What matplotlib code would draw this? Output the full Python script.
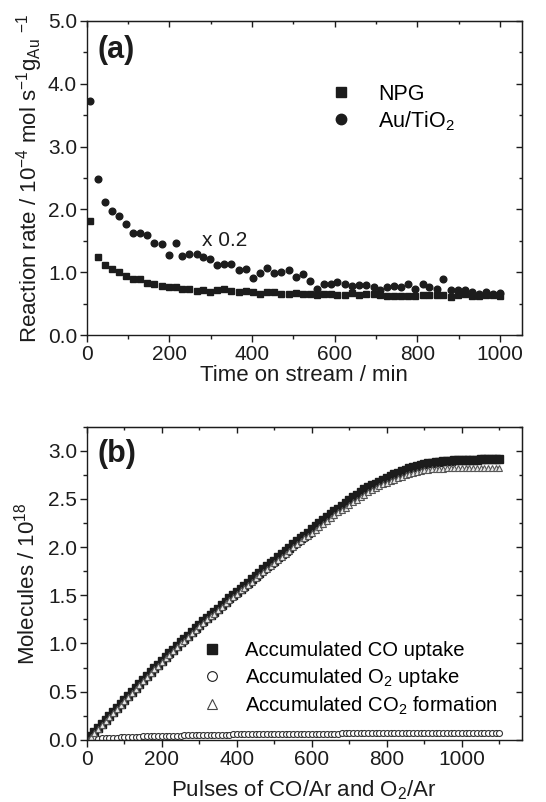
import numpy as np
import matplotlib.pyplot as plt
from matplotlib.ticker import MultipleLocator
from matplotlib.lines import Line2D

plt.rcParams['font.family'] = ['Liberation Sans', 'DejaVu Sans']
plt.rcParams['mathtext.fontset'] = 'custom'
plt.rcParams['mathtext.rm'] = 'Liberation Sans'
plt.rcParams['mathtext.it'] = 'Liberation Sans:italic'
plt.rcParams['mathtext.bf'] = 'Liberation Sans:bold'

# ---- panel (a): reaction rate vs time on stream ----
time_min = [8, 27, 43, 61, 77, 95, 111, 129, 145, 163, 181, 198, 215, 231, 248,
            266, 282, 298, 316, 333, 350, 368, 385, 402, 419, 435, 453, 471, 489,
            505, 523, 539, 556, 573, 590, 606, 624, 642, 658, 676, 694, 710, 727,
            744, 761, 777, 795, 813, 829, 847, 863, 881, 897, 915, 931, 948, 966,
            982, 1000]
rate_npg = [1.82, 1.24, 1.11, 1.06, 1.00, 0.94, 0.89, 0.89, 0.83, 0.82, 0.79, 0.77,
            0.76, 0.74, 0.74, 0.71, 0.72, 0.68, 0.72, 0.73, 0.71, 0.69, 0.71, 0.68,
            0.66, 0.68, 0.68, 0.66, 0.66, 0.67, 0.66, 0.66, 0.64, 0.66, 0.66, 0.64,
            0.64, 0.67, 0.64, 0.66, 0.66, 0.64, 0.62, 0.63, 0.63, 0.63, 0.62, 0.64,
            0.64, 0.64, 0.64, 0.61, 0.64, 0.65, 0.63, 0.62, 0.64, 0.64, 0.63]
rate_autio2 = [3.73, 2.49, 2.12, 1.97, 1.89, 1.77, 1.62, 1.62, 1.59, 1.46, 1.45, 1.28,
               1.46, 1.26, 1.29, 1.29, 1.24, 1.21, 1.12, 1.13, 1.13, 1.03, 1.06, 0.91,
               0.99, 1.07, 0.99, 1.00, 1.04, 0.92, 0.98, 0.87, 0.74, 0.81, 0.82, 0.85,
               0.81, 0.78, 0.80, 0.80, 0.77, 0.72, 0.77, 0.79, 0.76, 0.82, 0.74, 0.81,
               0.77, 0.73, 0.90, 0.72, 0.72, 0.72, 0.68, 0.66, 0.69, 0.65, 0.67]

# ---- panel (b): accumulated amounts vs pulse number (read every 10 pulses) ----
pulses = np.arange(0, 1101, 10)
co_uptake = [0.00, 0.04, 0.08, 0.12, 0.16, 0.20, 0.25, 0.29, 0.33, 0.37, 0.41,
             0.45, 0.50, 0.54, 0.58, 0.62, 0.66, 0.70, 0.74, 0.78, 0.82,
             0.86, 0.90, 0.93, 0.97, 1.01, 1.05, 1.08, 1.12, 1.16, 1.19,
             1.23, 1.26, 1.30, 1.33, 1.36, 1.40, 1.43, 1.47, 1.50, 1.53,
             1.57, 1.60, 1.63, 1.67, 1.70, 1.73, 1.77, 1.80, 1.83, 1.86,
             1.90, 1.93, 1.96, 1.99, 2.03, 2.06, 2.09, 2.12, 2.15, 2.19,
             2.22, 2.25, 2.28, 2.31, 2.34, 2.37, 2.40, 2.43, 2.46, 2.49,
             2.52, 2.54, 2.57, 2.60, 2.62, 2.64, 2.66, 2.68, 2.70, 2.72,
             2.74, 2.76, 2.77, 2.79, 2.80, 2.82, 2.83, 2.84, 2.85, 2.86,
             2.87, 2.875, 2.88, 2.885, 2.89, 2.89, 2.895, 2.90, 2.90, 2.90,
             2.90, 2.90, 2.905, 2.905, 2.91, 2.91, 2.91, 2.91, 2.91, 2.91]
o2_uptake = [0.000, 0.004, 0.008, 0.011, 0.014, 0.017, 0.019, 0.021, 0.023, 0.025, 0.027,
             0.028, 0.030, 0.031, 0.032, 0.034, 0.035, 0.036, 0.037, 0.038, 0.039,
             0.040, 0.041, 0.042, 0.043, 0.044, 0.045, 0.046, 0.047, 0.048, 0.049,
             0.050, 0.050, 0.051, 0.052, 0.052, 0.053, 0.054, 0.054, 0.055, 0.055,
             0.056, 0.056, 0.057, 0.057, 0.058, 0.058, 0.059, 0.059, 0.060, 0.060,
             0.061, 0.061, 0.061, 0.062, 0.062, 0.062, 0.063, 0.063, 0.063, 0.064,
             0.064, 0.064, 0.064, 0.065, 0.065, 0.065, 0.065, 0.066, 0.066, 0.066,
             0.066, 0.066, 0.067, 0.067, 0.067, 0.067, 0.067, 0.068, 0.068, 0.068,
             0.068, 0.068, 0.068, 0.069, 0.069, 0.069, 0.069, 0.069, 0.069, 0.069,
             0.070, 0.070, 0.070, 0.070, 0.070, 0.070, 0.070, 0.070, 0.070, 0.070,
             0.070, 0.070, 0.070, 0.070, 0.070, 0.070, 0.070, 0.070, 0.070, 0.070]
co2_formation = [0.00, 0.03, 0.07, 0.11, 0.15, 0.19, 0.24, 0.28, 0.32, 0.36, 0.40,
                 0.44, 0.49, 0.53, 0.57, 0.61, 0.65, 0.69, 0.73, 0.77, 0.81,
                 0.85, 0.88, 0.92, 0.96, 1.00, 1.03, 1.07, 1.11, 1.14, 1.18,
                 1.21, 1.25, 1.28, 1.31, 1.35, 1.38, 1.42, 1.45, 1.48, 1.51,
                 1.55, 1.58, 1.61, 1.64, 1.68, 1.71, 1.74, 1.77, 1.80, 1.84,
                 1.87, 1.90, 1.93, 1.96, 2.00, 2.03, 2.06, 2.09, 2.12, 2.15,
                 2.18, 2.21, 2.24, 2.27, 2.30, 2.33, 2.36, 2.39, 2.41, 2.44,
                 2.47, 2.49, 2.52, 2.54, 2.57, 2.59, 2.61, 2.63, 2.65, 2.67,
                 2.69, 2.70, 2.72, 2.73, 2.75, 2.76, 2.77, 2.78, 2.79, 2.80,
                 2.80, 2.81, 2.81, 2.815, 2.815, 2.82, 2.82, 2.82, 2.82, 2.82,
                 2.82, 2.82, 2.82, 2.82, 2.82, 2.82, 2.82, 2.82, 2.82, 2.82]

ink = '#1c1c1c'
fig = plt.figure(figsize=(5.46, 8.02), dpi=100)
ax1 = fig.add_axes([0.159, 0.582, 0.797, 0.392])
ax2 = fig.add_axes([0.159, 0.077, 0.797, 0.391])


def style_axes(ax, xmaj, xmin, ymaj, ymin):
    ax.xaxis.set_major_locator(MultipleLocator(xmaj))
    ax.xaxis.set_minor_locator(MultipleLocator(xmin))
    ax.yaxis.set_major_locator(MultipleLocator(ymaj))
    ax.yaxis.set_minor_locator(MultipleLocator(ymin))
    ax.tick_params(which='major', direction='out', length=5, width=1,
                   labelsize=15, colors=ink, pad=2)
    ax.tick_params(which='minor', direction='out', length=3, width=1, colors=ink)
    for s in ax.spines.values():
        s.set_linewidth(1.0)
        s.set_color(ink)
    # mirrored ticks on top and right, pointing in
    top = ax.secondary_xaxis('top')
    top.xaxis.set_major_locator(MultipleLocator(xmaj))
    top.xaxis.set_minor_locator(MultipleLocator(xmin))
    top.tick_params(which='both', direction='in', labeltop=False, width=1, colors=ink)
    top.tick_params(which='major', length=4)
    top.tick_params(which='minor', length=2.5)
    right = ax.secondary_yaxis('right')
    right.yaxis.set_major_locator(MultipleLocator(ymaj))
    right.yaxis.set_minor_locator(MultipleLocator(ymin))
    right.tick_params(which='both', direction='in', labelright=False, width=1, colors=ink)
    right.tick_params(which='major', length=4)
    right.tick_params(which='minor', length=2.5)


# panel (a)
ax1.plot(time_min, rate_npg, ls='none', marker='s', ms=4.2, color=ink, mec=ink)
ax1.plot(time_min, rate_autio2, ls='none', marker='o', ms=4.8, color=ink, mec=ink)
ax1.set_xlim(0, 1053)
ax1.set_ylim(0, 5)
style_axes(ax1, 200, 100, 1.0, 0.5)
ax1.yaxis.set_major_formatter(plt.FormatStrFormatter('%.1f'))
ax1.set_xlabel('Time on stream / min', fontsize=16, color=ink, labelpad=1)
ax1.set_ylabel(r'Reaction rate / 10$^{-4}$ mol s$^{-1}$g$_{\mathrm{Au}}$ $^{-1}$',
               fontsize=16, color=ink, labelpad=2)
ax1.text(0.025, 0.955, '(a)', transform=ax1.transAxes, fontsize=22,
         fontweight='bold', va='top', ha='left', color=ink)
ax1.text(278, 1.50, 'x 0.2', fontsize=15, va='center', ha='left', color=ink)
h_a = [Line2D([], [], ls='none', marker='s', ms=7, color=ink),
       Line2D([], [], ls='none', marker='o', ms=7.5, color=ink)]
ax1.legend(h_a, ['NPG', r'Au/TiO$_2$'], loc='upper left',
           bbox_to_anchor=(0.56, 0.80), frameon=False, fontsize=15.5,
           handlelength=1.0, handletextpad=1.2, labelspacing=0.2,
           borderpad=0, borderaxespad=0)

# panel (b)
ax2.plot(pulses, co_uptake, ls='none', marker='s', ms=5.2, color=ink, mec=ink)
ax2.plot(pulses, o2_uptake, ls='none', marker='o', ms=4.3, mfc='white',
         mec='#333333', mew=0.8)
ax2.plot(pulses, co2_formation, ls='none', marker='^', ms=4.8, mfc='#e8e8e8',
         mec='#555555', mew=0.8)
ax2.set_xlim(0, 1160)
ax2.set_ylim(-0.005, 3.25)
style_axes(ax2, 200, 100, 0.5, 0.25)
ax2.yaxis.set_major_formatter(plt.FormatStrFormatter('%.1f'))
ax2.set_xlabel(r'Pulses of CO/Ar and O$_2$/Ar', fontsize=16, color=ink, labelpad=7)
ax2.set_ylabel(r'Molecules / 10$^{18}$', fontsize=16, color=ink, labelpad=6)
ax2.text(0.025, 0.96, '(b)', transform=ax2.transAxes, fontsize=22,
         fontweight='bold', va='top', ha='left', color=ink)
h_b = [Line2D([], [], ls='none', marker='s', ms=7, color=ink),
       Line2D([], [], ls='none', marker='o', ms=7, mfc='white', mec=ink, mew=0.8),
       Line2D([], [], ls='none', marker='^', ms=7, mfc='white', mec='#444444', mew=0.8)]
ax2.legend(h_b, ['Accumulated CO uptake', r'Accumulated O$_2$ uptake',
                 r'Accumulated CO$_2$ formation'],
           loc='lower left', bbox_to_anchor=(0.265, 0.075), frameon=False,
           fontsize=14.6, handlelength=1.0, handletextpad=1.1, labelspacing=0.28,
           borderpad=0, borderaxespad=0)

fig.savefig('out.png', dpi=100)
